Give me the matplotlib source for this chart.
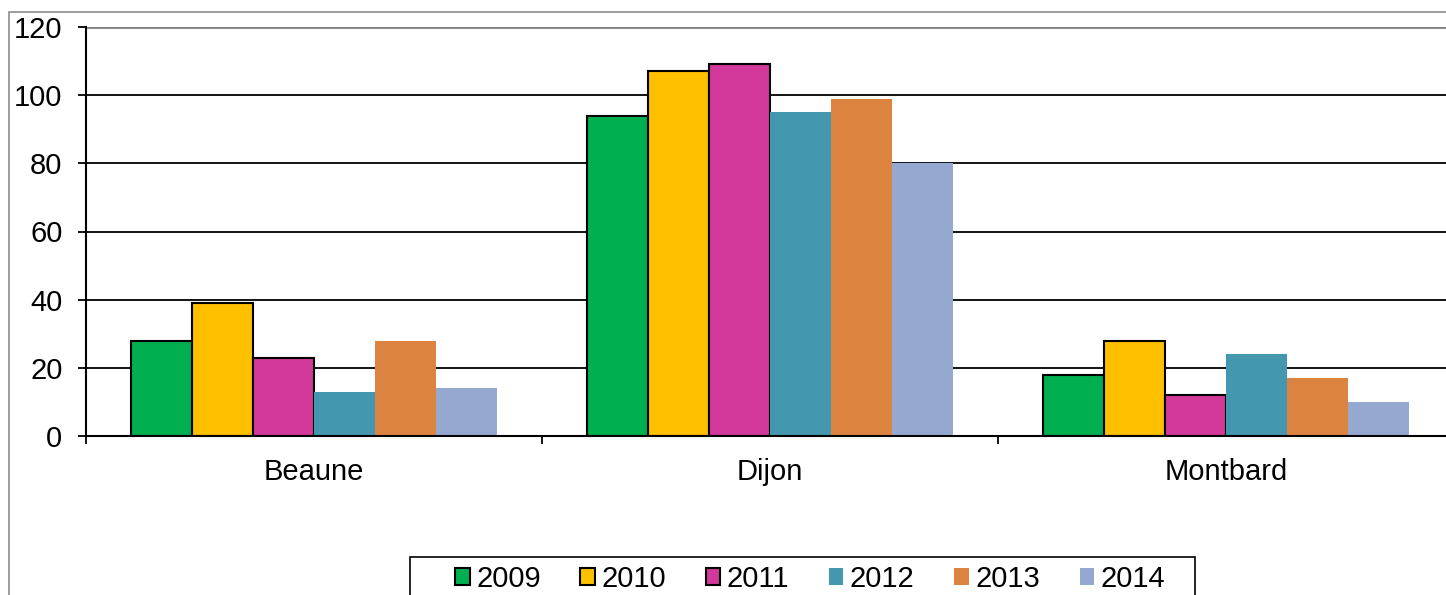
import matplotlib.pyplot as plt
import matplotlib.patches as mpatches
import numpy as np

plt.rcParams['font.family'] = ['Liberation Sans', 'DejaVu Sans']

cities = ['Beaune', 'Dijon', 'Montbard']
years = ['2009', '2010', '2011', '2012', '2013', '2014']
v2009 = [28, 94, 18]
v2010 = [39, 107, 28]
v2011 = [23, 109, 12]
v2012 = [13, 95, 24]
v2013 = [28, 99, 17]
v2014 = [14, 80, 10]
series = [v2009, v2010, v2011, v2012, v2013, v2014]
colors = ['#00B050', '#FFC000', '#D2399B', '#4398AF', '#DC843F', '#95A9D0']
edged = [True, True, True, False, False, False]

W, H = 1446, 595
fig = plt.figure(figsize=(W / 100, H / 100), dpi=100)

# outer chart frame
fig.patches.append(mpatches.Rectangle((9 / W, -0.1), 1.2, 1 - 12 / H + 0.1,
                                      transform=fig.transFigure, fill=False,
                                      edgecolor='#8c8c8c', linewidth=1.2))
# legend frame
fig.patches.append(mpatches.Rectangle((410 / W, -0.1), 785 / W, 1 - 557 / H + 0.1,
                                      transform=fig.transFigure, fill=False,
                                      edgecolor='black', linewidth=1.2))

ax = fig.add_axes([86 / W, 159 / H, 1368 / W, 409 / H])
x = np.arange(len(cities))
bw = 0.134
for i, (vals, col) in enumerate(zip(series, colors)):
    ax.bar(x + (i - 2.5) * bw, vals, bw, color=col,
           edgecolor='black' if edged[i] else col,
           linewidth=1.5 if edged[i] else 0, label=years[i], zorder=3)

ax.set_xlim(-0.5, 2.5)
ax.set_ylim(0, 120)
ax.set_yticks(range(0, 121, 20))
for yv in range(20, 121, 20):
    ax.axhline(yv, color='#808080' if yv == 120 else 'black',
               linewidth=2 if yv == 120 else 1.3, zorder=1)

ax.set_xticks(x)
ax.set_xticklabels(cities)
ax.set_xticks([-0.5, 0.5, 1.5, 2.5], minor=True)
ax.tick_params(axis='x', which='major', length=0, pad=16, labelsize=21)
ax.tick_params(axis='x', which='minor', length=6, width=1.3, direction='out')
ax.tick_params(axis='y', length=6, width=1.3, pad=11, labelsize=21)

for s in ['top', 'right']:
    ax.spines[s].set_visible(False)
for s in ['left', 'bottom']:
    ax.spines[s].set_linewidth(1.5)
ax.spines['bottom'].set_zorder(4)

leg = fig.legend(loc='center left', bbox_to_anchor=(455 / W, 1 - 579 / H),
                 ncol=6, fontsize=21, frameon=False,
                 handlelength=0.5, handleheight=0.5,
                 handletextpad=0.22, columnspacing=1.36, borderpad=0,
                 borderaxespad=0)

fig.savefig('out.png', dpi=100)
